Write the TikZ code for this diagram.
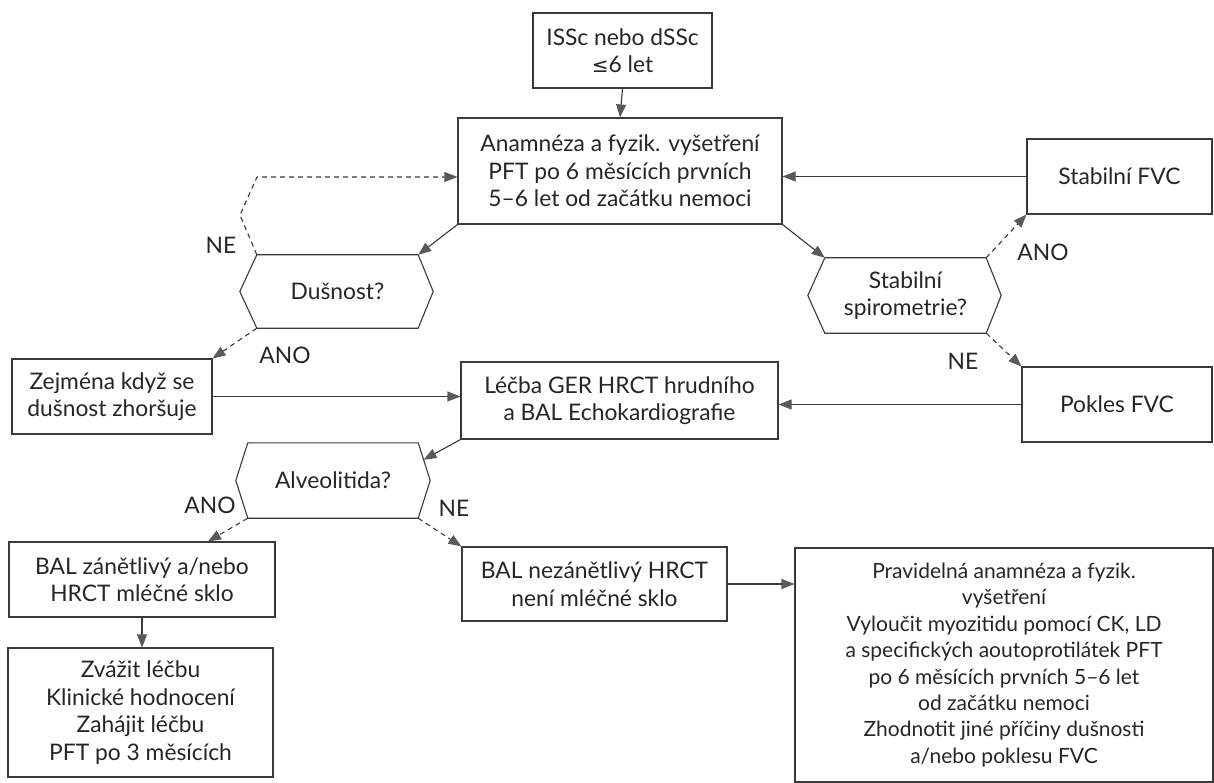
\documentclass[tikz,border=0pt]{standalone}
\usepackage{fontspec}
\setmainfont{Lato}
\newfontfamily\dejavu{DejaVu Sans}
\usetikzlibrary{arrows.meta,calc}
\definecolor{linec}{HTML}{3A3A3A}
\definecolor{arrowc}{HTML}{5A5A5A}
\definecolor{txt}{HTML}{262626}
\begin{document}
\begin{tikzpicture}[x=1pt,y=-1pt,
  font=\fontsize{22.8}{27.5}\selectfont,
  box/.style={draw=linec, line width=1.1pt, align=center, inner sep=0pt, text=txt},
  hexnode/.style={inner sep=0pt, align=center, text=txt},
  hexline/.style={draw=linec, line width=1.1pt},
  conn/.style={draw=linec, line width=1.1pt, -{Triangle[length=13pt,width=10pt,color=arrowc]}},
  dconn/.style={conn, dash pattern=on 5pt off 4pt},
  lbl/.style={text=txt, inner sep=0pt}]
\useasboundingbox (0,0) rectangle (1214,783);
\fill[white] (0,0) rectangle (1214,783);

% boxes
\node[box, minimum width=179pt, minimum height=75pt] (top) at (622.5,50.5) {ISSc nebo dSSc\\{\dejavu\fontsize{20}{27.5}\selectfont ≤}6 let};
\node[box, minimum width=324pt, minimum height=106pt] (anam) at (620,171) {Anamnéza a fyzik. vyšetření\\PFT po 6 měsících prvních\\5–6 let od začátku nemoci};
\node[box, minimum width=185pt, minimum height=75pt] (stab) at (1119.5,176.5) {Stabilní FVC};
\node[box, minimum width=190pt, minimum height=75pt] (pokles) at (1117,404.5) {Pokles FVC};
\node[box, minimum width=200pt, minimum height=75pt] (zej) at (112,396.5) {Zejména když se\\dušnost zhoršuje};
\node[box, minimum width=317pt, minimum height=77pt] (lecba) at (619.5,400.5) {Léčba GER HRCT hrudního\\a BAL Echokardiografie};
\node[box, minimum width=266pt, minimum height=75pt] (balz) at (142,579.5) {BAL zánětlivý a/nebo\\HRCT mléčné sklo};
\node[box, minimum width=265pt, minimum height=129pt] (zvaz) at (140.5,712.5) {Zvážit léčbu\\Klinické hodnocení\\Zahájit léčbu\\PFT po 3 měsících};
\node[box, minimum width=265pt, minimum height=74pt] (balnez) at (594.5,584) {BAL nezánětlivý HRCT\\není mléčné sklo};
\node[box, minimum width=418pt, minimum height=234pt, font=\fontsize{21}{26.4}\selectfont] (prav) at (1004,665) {Pravidelná anamnéza a fyzik.\\vyšetření\\Vyloučit myozitidu pomocí CK, LD\\a specifických aoutoprotilátek PFT\\po 6 měsících prvních 5–6 let\\od začátku nemoci\\Zhodnotit jiné příčiny dušnosti\\a/nebo poklesu FVC};

% hexagons
\node[hexnode, minimum width=161pt, minimum height=73pt] (dus) at (337.5,291.5) {Dušnost?};
\draw[hexline] (dus.north west) -- (dus.north east) -- ($(dus.east)+(15,0)$) -- (dus.south east) -- (dus.south west) -- ($(dus.west)+(-17,0)$) -- cycle;
\node[hexnode, minimum width=161pt, minimum height=75pt] (spir) at (905.5,295.5) {Stabilní\\spirometrie?};
\draw[hexline] (spir.north west) -- (spir.north east) -- ($(spir.east)+(15,0)$) -- (spir.south east) -- (spir.south west) -- ($(spir.west)+(-17,0)$) -- cycle;
\node[hexnode, minimum width=170pt, minimum height=75pt] (alv) at (333,480.5) {Alveolitida?};
\coordinate (alvE) at ($(alv.east)+(12,0)$);
\draw[hexline] (alv.north west) -- (alv.north east) -- (alvE) -- (alv.south east) -- (alv.south west) -- ($(alv.west)+(-12,0)$) -- cycle;

% helper coordinates
\coordinate (ne1) at (240,215);
\coordinate (ne2) at (257,177);
\coordinate (alvR) at ($(alv.north east)!0.45!(alvE)$);
\coordinate (balzT) at ($(balz.north)+(66,0)$);

% connectors
\draw[conn] (top.south) -- (anam.north);
\draw[conn] (stab.west) -- (anam.east |- stab.west);
\draw[conn] (anam.south east) -- (spir.north west);
\draw[dconn] (spir.north east) -- (stab.south west);
\draw[dconn] (spir.south east) -- (pokles.north west);
\draw[conn] (pokles.west) -- (lecba.east |- pokles.west);
\draw[conn] (anam.south west) -- (dus.north east);
\draw[dconn] (dus.north west) -- (ne1) -- (ne2) -- (anam.west |- ne2);
\draw[dconn] (dus.south west) -- (zej.north east);
\draw[conn] (zej.east) -- (lecba.west |- zej.east);
\draw[conn] (lecba.south west) -- (alvR);
\draw[dconn] (alv.south west) -- (balzT);
\draw[dconn] (alv.south east) -- (balnez.north west);
\draw[conn] (balz.south) -- (balz.south |- zvaz.north);
\draw[conn] (balnez.east) -- (prav.west |- balnez.east);

% labels
\node[lbl] (lne1) at (221,245) {NE};
\node[lbl] (lano1) at (285,355) {ANO};
\node[lbl] (lano2) at (1043,252) {ANO};
\node[lbl] (lne2) at (963,361) {NE};
\node[lbl] (lano3) at (210,505) {ANO};
\node[lbl] (lne3) at (454,508) {NE};
\end{tikzpicture}
\end{document}
